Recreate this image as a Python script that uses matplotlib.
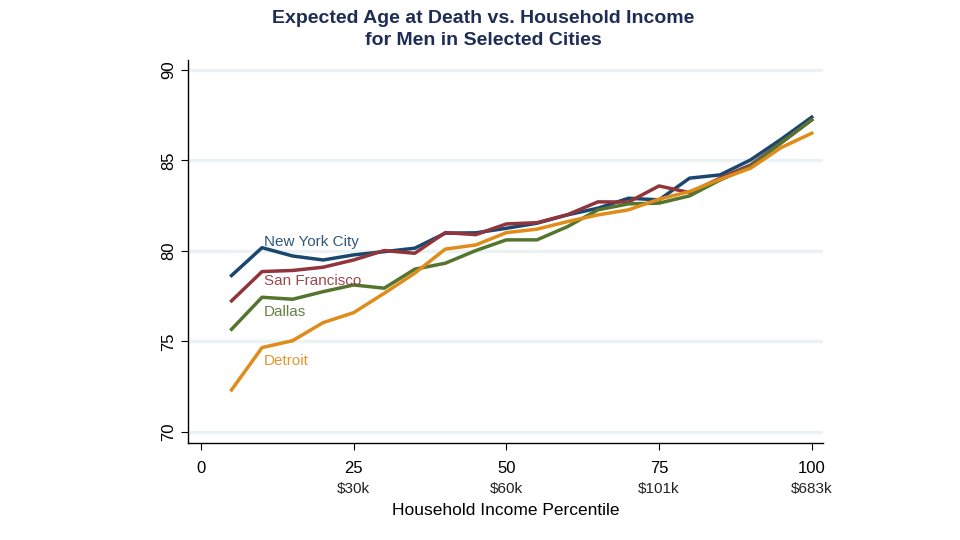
import matplotlib
matplotlib.use('Agg')
import matplotlib.pyplot as plt
import matplotlib.transforms as mtransforms

plt.rcParams['font.family'] = ['Liberation Sans', 'DejaVu Sans']

# household income percentile
pctile = [5, 10, 15, 20, 25, 30, 35, 40, 45, 50,
          55, 60, 65, 70, 75, 80, 85, 90, 95, 100]

# expected age at death, men
nyc = [78.64, 80.18, 79.72, 79.50, 79.78, 79.96, 80.15, 80.98, 81.00, 81.25,
       81.53, 81.99, 82.36, 82.91, 82.82, 84.02, 84.20, 85.03, 86.17, 87.39]
sf = [77.24, 78.86, 78.92, 79.10, 79.50, 80.02, 79.87, 81.01, 80.90, 81.49,
      81.56, 82.00, 82.71, 82.70, 83.59, 83.22, 84.02, 84.75, 85.97, 87.24]
dallas = [75.67, 77.44, 77.33, 77.75, 78.12, 77.94, 78.99, 79.32, 80.02, 80.61,
          80.61, 81.34, 82.27, 82.60, 82.64, 83.04, 83.92, 84.66, 85.98, 87.24]
detroit = [72.32, 74.66, 75.04, 76.04, 76.59, 77.66, 78.77, 80.10, 80.33, 81.01,
           81.20, 81.62, 81.99, 82.27, 82.86, 83.28, 83.96, 84.57, 85.71, 86.50]

cities = ['New York City', 'San Francisco', 'Dallas', 'Detroit']
label_y = [80.5, 78.35, 76.65, 73.9]
colors = ['#1a476f', '#90353b', '#55752f', '#e08c1a']

xticks = [0, 25, 50, 75, 100]
income_labels = ['', '$30k', '$60k', '$101k', '$683k']
yticks = [70, 75, 80, 85, 90]

fig = plt.figure(figsize=(9.6, 5.4), dpi=100)
ax = fig.add_axes([0.196, 0.180, 0.661, 0.709])

for yt in yticks:
    ax.axhline(yt, color='#eaf2f3', lw=2.5, zorder=0)

for vals, name, ly, c in zip([nyc, sf, dallas, detroit], cities, label_y, colors):
    ax.plot(pctile, vals, color=c, lw=2.5, zorder=3)
    ax.text(10.3, ly, name, color=c, fontsize=11, va='center', ha='left',
            alpha=0.9, zorder=4)

ax.set_xlim(-2.1, 101.8)
ax.set_ylim(69.4, 90.55)
ax.set_xticks(xticks)
ax.set_yticks(yticks)
ax.set_yticklabels([str(y) for y in yticks], rotation=90, va='center')
ax.tick_params(axis='both', labelsize=12, length=5, width=0.8, color='black')
ax.tick_params(axis='x', pad=8)

for s in ['top', 'right']:
    ax.spines[s].set_visible(False)
for s in ['left', 'bottom']:
    ax.spines[s].set_linewidth(1.0)

# second row of tick labels: income
trans = mtransforms.blended_transform_factory(ax.transData, ax.transAxes)
for xt, lab in zip(xticks, income_labels):
    ax.text(xt, -0.12, lab, transform=trans, ha='center', va='center',
            fontsize=11, color='#222222')

ax.text(0.5, -0.178, 'Household Income Percentile', transform=ax.transAxes,
        ha='center', va='center', fontsize=12.5)

fig.text(0.503, 0.945, 'Expected Age at Death vs. Household Income\nfor Men in Selected Cities',
         ha='center', va='center', fontsize=14, fontweight='bold', color='#1e2d53',
         linespacing=1.4)

fig.savefig('out.png', dpi=100)
